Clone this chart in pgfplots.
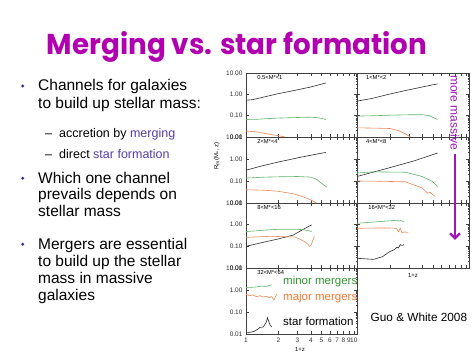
\documentclass[border=0pt]{standalone}
\usepackage{fontspec}
\setmainfont{Liberation Sans}
\newfontfamily\titlefont{Poppins}
\usepackage{pgfplots}
\pgfplotsset{compat=1.18}
\usetikzlibrary{arrows.meta}
\definecolor{titlemag}{RGB}{176,0,176}
\definecolor{arrowpur}{RGB}{160,20,185}
\definecolor{bulletblue}{RGB}{60,50,150}
\definecolor{hilite}{RGB}{85,60,170}
\definecolor{lgreen}{RGB}{95,180,105}
\definecolor{lorange}{RGB}{240,135,85}
\definecolor{lblack}{RGB}{45,45,45}
\definecolor{tgreen}{RGB}{50,150,50}
\definecolor{torange}{RGB}{240,120,50}
\pgfplotsset{
  every axis/.append style={
    scale only axis, width=111pt,
    xmode=log, ymode=log, xmin=1, xmax=10.7, ymin=0.01, ymax=10,
    xtick={1,2,3,4,5,6,7,8,9,10}, minor xtick={},
    ytick={0.01,0.1,1,10},
    axis line style={line width=0.5pt, black!75},
    tick style={black!75, line width=0.4pt},
    major tick length=3pt, minor tick length=1.5pt,
    tick label style={font=\fontsize{6.5}{7}\selectfont, text=black!80},
    anchor=north west,
  },
  every axis plot/.append style={line width=0.6pt, no markers},
}
\tikzset{lab/.style={font=\fontsize{5.8}{6}\selectfont}}
\newcommand{\bline}[2]{\node[anchor=base west, inner sep=0pt, font=\fontsize{15.5}{18}\selectfont] at (38pt,#1pt) {#2};}
\newcommand{\sline}[2]{\node[anchor=base west, inner sep=0pt, font=\fontsize{12.5}{15}\selectfont] at (45pt,#1pt) {–};
  \node[anchor=base west, inner sep=0pt, font=\fontsize{12.5}{15}\selectfont] at (59pt,#1pt) {#2};}
\begin{document}
\begin{tikzpicture}
\path[use as bounding box, fill=white] (0pt,0pt) rectangle (474pt,355pt);
% title
\node[anchor=base, inner sep=0pt, text=titlemag] at (237pt,300pt) {\resizebox{380pt}{23pt}{\titlefont\bfseries Merging vs. star formation}};
% bullets
\fill[bulletblue] (22.7pt,269pt) circle (1.6pt);
\fill[bulletblue] (22.7pt,176.7pt) circle (1.6pt);
\fill[bulletblue] (22.7pt,110.7pt) circle (1.6pt);
\bline{264}{Channels for galaxies}
\bline{246.7}{to build up stellar mass:}
\sline{217.7}{accretion by \textcolor{hilite}{merging}}
\sline{196}{direct \textcolor{hilite}{star formation}}
\bline{171.7}{Which one channel}
\bline{155}{prevails depends on}
\bline{138.3}{stellar mass}
\bline{105.7}{Mergers are essential}
\bline{88.3}{to build up the stellar}
\bline{71.7}{mass in massive}
\bline{54.3}{galaxies}

% ---- row 1 left: 0.5<M<1
\begin{axis}[height=64pt, at={(246pt,282pt)}, xticklabels={}, yticklabels={0.01,0.10,1.00,10.00}]
\addplot[lblack] coordinates {(1,0.53) (1.15,0.56) (1.37,0.69) (1.95,1.05) (2.78,1.5) (3.97,2.2) (5.5,3.4)};
\addplot[lgreen] coordinates {(1,0.066) (1.3,0.068) (1.5,0.072) (2,0.077) (3,0.082) (4,0.085) (4.6,0.08) (5,0.075) (5.5,0.066)};
\addplot[lorange] coordinates {(1,0.019) (1.3,0.017) (1.7,0.013) (2.0,0.0115) (2.3,0.01)};
\node[lab, anchor=west] at (rel axis cs:0.07,0.93) {0.5<M*<1};
\end{axis}
% ---- row 1 right: 1<M<2
\begin{axis}[width=112pt, height=64pt, at={(357pt,282pt)}, xticklabels={}, yticklabels={}]
\addplot[lblack] coordinates {(1,0.48) (1.37,0.64) (1.95,1.0) (2.78,1.5) (3.97,2.2) (5.5,3.1)};
\addplot[lgreen] coordinates {(1,0.095) (1.5,0.1) (2,0.105) (3,0.11) (4,0.11) (4.6,0.1) (5.5,0.066)};
\addplot[lorange] coordinates {(1,0.027) (1.5,0.026) (2,0.025) (2.4,0.02) (2.8,0.014) (3.1,0.01)};
\node[lab, anchor=west] at (rel axis cs:0.05,0.93) {1<M*<2};
\end{axis}
% ---- row 2 left: 2<M<4
\begin{axis}[height=66pt, at={(246pt,218pt)}, xticklabels={}, yticklabels={0.01,0.10,1.00,10.00}]
\addplot[lblack] coordinates {(1,0.31) (1.37,0.47) (1.95,0.71) (3.2,1.2) (5.5,2.0)};
\addplot[lgreen] coordinates {(1,0.135) (1.5,0.15) (2,0.155) (3,0.16) (4,0.15) (4.5,0.12) (5,0.08) (5.6,0.053)};
\addplot[lorange] coordinates {(1,0.04) (1.5,0.038) (2,0.034) (2.78,0.026) (3.5,0.018) (3.97,0.014) (4.5,0.01)};
\node[lab, anchor=west] at (rel axis cs:0.07,0.93) {2<M*<4};
\end{axis}
% ---- row 2 right: 4<M<8
\begin{axis}[width=112pt, height=66pt, at={(357pt,218pt)}, xticklabels={}, yticklabels={}]
\addplot[lblack] coordinates {(1,0.16) (1.95,0.39) (3.4,0.84) (5.5,1.87)};
\addplot[lgreen] coordinates {(1,0.23) (1.4,0.26) (2.78,0.25) (3.97,0.16) (4.9,0.097) (5.5,0.057)};
\addplot[lorange] coordinates {(1,0.10) (1.5,0.098) (2.78,0.092) (3.97,0.048) (4.45,0.028) (4.7,0.03) (5.2,0.02)};
\node[lab, anchor=west] at (rel axis cs:0.05,0.93) {4<M*<8};
\end{axis}
% ---- row 3 left: 8<M<16
\begin{axis}[height=65pt, at={(246pt,152pt)}, xticklabels={}, yticklabels={0.01,0.10,1.00,10.00}]
\addplot[lblack] coordinates {(1,0.1) (1.5,0.16) (2,0.22) (2.74,0.33) (3.4,0.61) (4.06,0.98)};
\addplot[lgreen] coordinates {(1,0.48) (1.5,0.56) (2,0.61) (3,0.61) (3.5,0.58) (4.06,0.48)};
\addplot[lorange] coordinates {(1,0.26) (1.7,0.29) (2.84,0.27) (3.2,0.21) (3.6,0.15) (3.9,0.10) (4.0,0.11) (4.3,0.29)};
\node[lab, anchor=west] at (rel axis cs:0.07,0.93) {8<M*<16};
\end{axis}
% ---- row 3 right: 16<M<32
\begin{axis}[width=112pt, height=65pt, at={(357pt,152pt)}, xticklabels={}, yticklabels={}]
\addplot[lgreen] coordinates {(1,1.16) (1.5,1.35) (2,1.5) (2.33,1.6) (2.41,1.45) (2.5,1.55) (2.7,1.37)};
\addplot[lorange] coordinates {(1,0.68) (1.5,0.7) (2,0.7) (2.3,0.68) (2.41,0.47) (2.5,0.68) (2.59,0.42) (2.78,0.47) (2.96,0.4)};
\addplot[lblack] coordinates {(1,0.028) (1.42,0.025) (1.71,0.033) (2.0,0.057) (2.2,0.07) (2.33,0.091) (2.41,0.085) (2.5,0.12) (2.6,0.11) (2.7,0.12)};
\node[lab, anchor=west] at (rel axis cs:0.07,0.93) {16<M*<32};
\end{axis}
% ---- row 4 left: 32<M<64
\begin{axis}[height=66pt, at={(246pt,87pt)}, xticklabels={1,2,3,4,5,6,7,8,9,10}, yticklabels={0.01,0.10,1.00,10.00}]
\addplot[lgreen] coordinates {(1,1.3) (1.1,1.32) (1.2,1.35) (1.3,1.42) (1.4,1.5) (1.55,1.45) (1.65,1.6) (1.73,1.7)};
\addplot[lorange] coordinates {(1,0.64) (1.08,0.55) (1.15,0.6) (1.25,0.5) (1.35,0.55) (1.45,0.48) (1.55,0.52) (1.65,0.45) (1.73,0.5) (1.82,0.35) (1.92,0.64)};
\addplot[lblack] coordinates {(1,0.011) (1.18,0.013) (1.3,0.017) (1.35,0.02) (1.45,0.021) (1.5,0.028) (1.55,0.036) (1.58,0.055) (1.67,0.026) (1.73,0.021)};
\node[lab, anchor=west] at (rel axis cs:0.07,0.93) {32<M*<64};
\end{axis}
% axis labels
\node[font=\fontsize{6}{7}\selectfont, rotate=90] at (217pt,199pt) {R\textsubscript{m}(M\textsubscript{*}, z)};
\node[font=\fontsize{6}{7}\selectfont] at (300pt,5.7pt) {1+z};
\node[font=\fontsize{6}{7}\selectfont] at (413pt,80pt) {1+z};
% legend-like labels
\node[anchor=base west, inner sep=0pt, text=tgreen, font=\fontsize{11.5}{13}\selectfont] at (283pt,70pt) {minor mergers};
\node[anchor=base west, inner sep=0pt, text=torange, font=\fontsize{11.5}{13}\selectfont] at (283pt,54pt) {major mergers};
\node[anchor=base west, inner sep=0pt, font=\fontsize{11.5}{13}\selectfont] at (283pt,29.3pt) {star formation};
\node[anchor=base west, inner sep=0pt, font=\fontsize{11.8}{13}\selectfont] at (370.5pt,33.3pt) {Guo \& White 2008};
% more massive arrow
\node[rotate=-90, text=arrowpur, inner sep=0pt, font=\fontsize{12}{13}\selectfont] at (455pt,242.5pt) {more massive};
\draw[arrowpur, line width=2.4pt, -{Straight Barb[length=5pt,width=10pt]}] (455pt,201pt) -- (455pt,115pt);
\end{tikzpicture}
\end{document}
